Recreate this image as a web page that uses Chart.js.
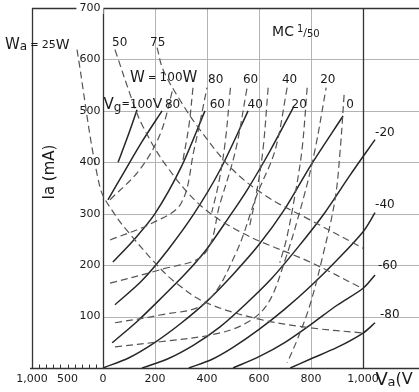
<!DOCTYPE html>
<html lang="en">
<head>
<meta charset="UTF-8" />
<title>MC1/50 anode characteristics</title>
<script src="https://cdn.jsdelivr.net/npm/chart.js"></script>
<style>
  html, body { margin: 0; padding: 0; background: #fff; }
  canvas { display: block; }
</style>
</head>
<body>
<canvas id="chart" width="419" height="392"></canvas>
<script>
  // ---- data (Va in V, Ia in mA) ----
  // solid curves: constant grid voltage
  const vgNames = ['100', '80', '60', '40', '20', '0', '-20', '-40', '-60', '-80'];
  const vg100 = [[58, 400], [95, 450], [131, 502]];
  const vg80 = [[19, 327], [80, 380], [150, 440], [227, 500]];
  const vg60 = [[38, 206], [120, 250], [200, 300], [300, 390], [392, 500]];
  const vg40 = [[46, 123], [150, 170], [250, 230], [350, 300], [450, 385], [558, 500]];
  const vg20 = [[35, 49], [130, 90], [228, 138], [320, 185], [400, 232], [480, 290], [554, 346], [640, 420], [731, 506]];
  const vg0 = [[0, 0], [100, 20], [200, 50], [300, 87], [400, 130], [500, 182], [600, 240], [700, 310], [800, 395], [923, 490]];
  const vgM20 = [[150, 0], [250, 18], [350, 45], [450, 80], [550, 125], [650, 175], [750, 235], [850, 300], [950, 375], [1046, 444]];
  const vgM40 = [[330, 0], [420, 17], [500, 40], [600, 75], [700, 115], [800, 160], [900, 210], [1000, 265], [1046, 302]];
  const vgM60 = [[500, 0], [600, 22], [700, 50], [800, 85], [900, 122], [1000, 155], [1046, 181]];
  const vgM80 = [[720, 0], [800, 18], [900, 40], [1000, 68], [1046, 88]];

  // dashed curves sweeping down to the right (anode dissipation)
  const wa25 = [[-100, 619], [-12, 352], [46, 298], [96, 265], [208, 200], [277, 167], [392, 128], [600, 95], [800, 78], [1000, 68]];
  const wa50 = [[46, 619], [112, 521], [150, 473], [238, 397], [373, 317], [538, 262], [796, 206], [1000, 154]];
  const wa75 = [[208, 623], [231, 580], [296, 521], [373, 463], [500, 385], [631, 333], [796, 288], [1000, 233]];

  // dashed curves rising to the right, labelled W = 100 ... 20
  const w100 = [[27, 327], [140, 385], [220, 455], [270, 545]];
  const w80 = [[27, 249], [190, 282], [300, 320], [350, 424], [400, 545]];
  const w60 = [[27, 165], [219, 191], [390, 222], [450, 320], [510, 424], [554, 545]];
  const w40 = [[46, 88], [219, 103], [392, 126], [508, 220], [592, 337], [662, 424], [708, 545]];
  const w20 = [[46, 41], [219, 51], [412, 64], [538, 84], [631, 123], [700, 210], [769, 327], [815, 424], [858, 545]];
  // steep companions hanging from the same labels
  const w20b = [[927, 531], [912, 424], [892, 327], [846, 220], [796, 123], [746, 54], [708, 10]];
  const w40b = [[785, 545], [765, 424], [735, 327], [705, 250], [680, 205]];
  const w60b = [[635, 545], [615, 424], [590, 340], [562, 272]];
  const w80b = [[490, 545], [470, 440], [445, 360], [418, 302]];
  const w100b = [[346, 545], [330, 470], [306, 400]];

  const gridVa = [0, 200, 400, 600, 800, 1000];
  const gridIa = [100, 200, 300, 400, 500, 600, 700];
  const vaTicks = ['0', '200', '400', '600', '800', '1,000'];
  const leftTicks = [0, 100, 200, 300, 400, 500, 600, 700, 800, 900, 1000];
  const leftLabels = ['1,000', '500'];
  const leftLabelValues = [1000, 500];
  const leftSpan = 273;  // 1,000 V of the left hand scale, in main-scale volts

  const solidSets = [vg100, vg80, vg60, vg40, vg20, vg0, vgM20, vgM40, vgM60, vgM80];
  const dashSets = [wa25, wa50, wa75, w100, w80, w60, w40, w20, w20b, w40b, w60b, w80b, w100b];

  const toPts = arr => arr.map(([x, y]) => ({ x, y }));
  const datasets = [];
  dashSets.forEach(d => datasets.push({
    data: toPts(d), showLine: true, pointRadius: 0, borderColor: '#555',
    borderWidth: 1.2, borderDash: [7, 4], tension: 0.35, fill: false
  }));
  solidSets.forEach((d, i) => datasets.push({
    label: 'Vg ' + vgNames[i], data: toPts(d), showLine: true, pointRadius: 0,
    borderColor: '#262626', borderWidth: 1.5, tension: 0.3, fill: false
  }));

  const font = (size, weight) => `${weight || 'normal'} ${size}px "DejaVu Sans", sans-serif`;

  const paper = {
    id: 'paper',
    beforeDatasetsDraw(chart) {
      const { ctx, chartArea: a, scales: { x, y } } = chart;
      ctx.save();
      ctx.lineWidth = 1;
      ctx.strokeStyle = '#b4b4b4';
      const x0 = x.getPixelForValue(0);
      gridIa.forEach(v => {
        const py = Math.round(y.getPixelForValue(v)) + 0.5;
        ctx.beginPath(); ctx.moveTo(x0, py); ctx.lineTo(a.right, py); ctx.stroke();
      });
      gridVa.forEach(v => {
        const px = Math.round(x.getPixelForValue(v)) + 0.5;
        ctx.beginPath(); ctx.moveTo(px, y.getPixelForValue(0)); ctx.lineTo(px, y.getPixelForValue(700)); ctx.stroke();
      });
      // frame
      ctx.strokeStyle = '#333';
      ctx.lineWidth = 1.3;
      const yb = Math.round(y.getPixelForValue(0)) + 0.5;
      const yt = Math.round(y.getPixelForValue(700)) + 0.5;
      const x1k = Math.round(x.getPixelForValue(1000)) + 0.5;
      ctx.beginPath();
      ctx.moveTo(a.left + 0.5, yb); ctx.lineTo(a.left + 0.5, yt); ctx.lineTo(a.right, yt);
      ctx.moveTo(a.left - 2, yb); ctx.lineTo(a.right, yb);
      ctx.moveTo(Math.round(x0) + 0.5, yb); ctx.lineTo(Math.round(x0) + 0.5, yt);
      ctx.moveTo(x1k, yb); ctx.lineTo(x1k, yt);
      ctx.stroke();
      // small ticks on the left hand scale
      ctx.lineWidth = 1;
      leftTicks.forEach(v => {
        const px = Math.round(x.getPixelForValue(-v * leftSpan / 1000)) + 0.5;
        ctx.beginPath(); ctx.moveTo(px, yb); ctx.lineTo(px, yb - 4); ctx.stroke();
      });
      ctx.restore();
    },
    afterDatasetsDraw(chart) {
      const { ctx, scales: { x, y } } = chart;
      const X = v => x.getPixelForValue(v);
      const Y = v => y.getPixelForValue(v);
      ctx.save();
      ctx.fillStyle = '#1a1a1a';
      ctx.textBaseline = 'middle';

      // Ia tick labels
      ctx.font = font(11);
      ctx.textAlign = 'right';
      gridIa.forEach(v => {
        const s = String(v);
        if (v === 700) {
          const w = ctx.measureText(s).width;
          ctx.fillStyle = '#fff';
          ctx.fillRect(X(-10) - w - 3, Y(v) - 6, w + 6, 12);
          ctx.fillStyle = '#1a1a1a';
        }
        ctx.fillText(s, X(-10), Y(v));
      });

      // Va tick labels
      ctx.textAlign = 'center';
      const yl = Y(0) + 11;
      vaTicks.forEach((s, i) => ctx.fillText(s, X(gridVa[i]), yl));
      leftLabels.forEach((s, i) => ctx.fillText(s, X(-leftLabelValues[i] * leftSpan / 1000), yl));

      // axis titles
      ctx.textAlign = 'left';
      ctx.font = font(18);
      ctx.fillText('V', X(1048), yl + 1);
      ctx.font = font(13);
      ctx.fillText('a', X(1048) + 12, yl + 4);
      ctx.font = font(16);
      ctx.fillText('(V', X(1048) + 20, yl + 1);

      ctx.save();
      ctx.translate(X(-204), Y(381));
      ctx.rotate(-Math.PI / 2);
      ctx.textAlign = 'center';
      ctx.font = font(15);
      ctx.fillText('Ia (mA)', 0, 0);
      ctx.restore();

      // family labels
      ctx.textAlign = 'left';
      const piece = (txt, px, py, size) => { ctx.font = font(size); ctx.fillText(txt, px, py); return px + ctx.measureText(txt).width; };
      let px = X(-377);
      px = piece('W', px, Y(628), 15);
      px = piece('a', px, Y(624), 12);
      px = piece(' = ', px, Y(628), 10);
      px = piece('25', px, Y(628), 11);
      piece('W', px, Y(628), 14);
      piece('50', X(35), Y(632), 12);
      piece('75', X(181), Y(632), 12);

      px = X(104);
      px = piece('W', px, Y(564), 15);
      px = piece(' = ', px, Y(564), 10);
      px = piece('100', px, Y(564), 12);
      piece('W', px, Y(564), 15);
      [['80', 404], ['60', 538], ['40', 688], ['20', 835]].forEach(([s, v]) => piece(s, X(v), Y(560), 12));

      px = X(2);
      px = piece('V', px, Y(512), 15);
      px = piece('g', px, Y(506), 12);
      px = piece('=', px, Y(512), 10);
      px = piece('100', px, Y(512), 12);
      piece('V', px, Y(512), 14);
      [['80', 238], ['60', 410], ['40', 556], ['20', 725], ['0', 935]].forEach(([s, v]) => piece(s, X(v), Y(512), 12));
      [['-20', 457, 1046], ['-40', 317, 1046], ['-60', 198, 1057], ['-80', 103, 1065]].forEach(([s, ia, va]) => piece(s, X(va), Y(ia), 12));

      px = X(650);
      px = piece('MC', px, Y(652), 14);
      px = piece('1', px + 3, Y(658), 10);
      px = piece('/', px, Y(652), 11);
      piece('50', px, Y(648), 10);

      ctx.restore();
    }
  };

  new Chart(document.getElementById('chart'), {
    type: 'scatter',
    data: { datasets },
    options: {
      responsive: false,
      animation: false,
      devicePixelRatio: 1,
      layout: { padding: { left: 32, right: 0, top: 8, bottom: 24 } },
      plugins: { legend: { display: false }, tooltip: { enabled: false } },
      scales: {
        x: { type: 'linear', min: -leftSpan, max: 1215, display: false },
        y: { type: 'linear', min: 0, max: 700, display: false }
      }
    },
    plugins: [paper]
  });
</script>
</body>
</html>
